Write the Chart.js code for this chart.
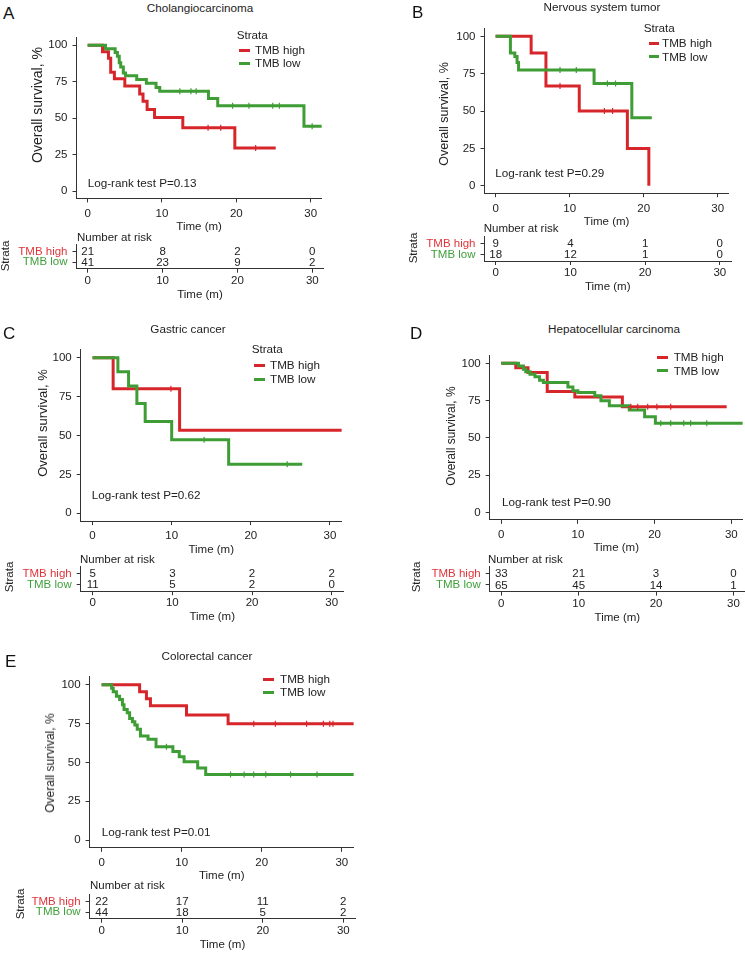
<!DOCTYPE html>
<html>
<head>
<meta charset="utf-8">
<script src="https://cdn.jsdelivr.net/npm/chart.js@4.4.1/dist/chart.umd.min.js"></script>
<style>
html, body { margin: 0; padding: 0; background: #fff; }
body { width: 745px; height: 953px; position: relative; overflow: hidden;
       font-family: "Liberation Sans", Arial, Helvetica, sans-serif; color: #222; }
canvas { position: absolute; }
.t { position: absolute; white-space: nowrap; line-height: 1; font-size: 11.5px; }
.key { position: absolute; height: 3px; }
</style>
</head>
<body>
<script>
// ---- data ----
const timeTicks = [0, 10, 20, 30];
const survTicks = [0, 25, 50, 75, 100];
const strata = ['TMB high', 'TMB low'];
const riskTimes = [0, 10, 20, 30];

// A  Cholangiocarcinoma
const cholHighTime = [0, 2.0, 2.8, 3.1, 3.6, 5.0, 7.0, 7.45, 8.0, 9.0, 12.8, 19.8, 25.3];
const cholHighSurv = [100, 95.5, 91, 81.5, 77, 72, 66.5, 61.5, 56, 50.5, 43.5, 29.5, 29.5];
const cholLowTime = [0, 2.4, 3.7, 4.0, 4.25, 4.45, 4.8, 5.1, 6.6, 7.9, 9.2, 9.7, 16.25, 17.5, 29.1, 31.5];
const cholLowSurv = [100, 97.5, 95, 92.5, 88, 85, 81, 79, 76.5, 74, 71, 68.5, 63.5, 58.5, 44.5, 44.5];
const cholHighCensTime = [16.2, 17.9, 22.6];
const cholHighCensSurv = [43.5, 43.5, 29.5];
const cholLowCensTime = [12.4, 13.9, 14.6, 19.5, 21.7, 24.9, 25.8, 30.2];
const cholLowCensSurv = [68.5, 68.5, 68.5, 58.5, 58.5, 58.5, 58.5, 44.5];
const cholRiskHigh = [21, 8, 2, 0];
const cholRiskLow = [41, 23, 9, 2];

// B  Nervous system tumor
const nervHighTime = [0, 4.8, 6.8, 11.3, 17.8, 20.7];
const nervHighSurv = [100, 88.9, 66.7, 50, 25, 0];
const nervLowTime = [0, 2.0, 2.6, 2.9, 3.1, 13.3, 18.4, 21.1];
const nervLowSurv = [100, 88.9, 86.5, 82.5, 77.5, 68.5, 45.5, 45.5];
const nervHighCensTime = [8.7, 14.7, 15.8];
const nervHighCensSurv = [66.7, 50, 50];
const nervLowCensTime = [8.7, 10.9, 15.1, 16.2];
const nervLowCensSurv = [77.5, 77.5, 68.5, 68.5];
const nervRiskHigh = [9, 4, 1, 0];
const nervRiskLow = [18, 12, 1, 0];

// C  Gastric cancer
const gastHighTime = [0, 2.6, 11.0, 31.5];
const gastHighSurv = [100, 80, 53.3, 53.3];
const gastLowTime = [0, 3.2, 4.55, 5.6, 6.65, 10.0, 17.2, 26.5];
const gastLowSurv = [100, 90.9, 81.8, 70.5, 59, 47.3, 31.5, 31.5];
const gastHighCensTime = [9.9];
const gastHighCensSurv = [80];
const gastLowCensTime = [14.1, 24.6];
const gastLowCensSurv = [47.3, 31.5];
const gastRiskHigh = [5, 3, 2, 2];
const gastRiskLow = [11, 5, 2, 0];

// D  Hepatocellular carcinoma
const hepaHighTime = [0, 1.9, 3.5, 6.0, 9.6, 15.8, 29.4];
const hepaHighSurv = [100, 97, 93.9, 81.1, 77.5, 70.9, 70.9];
const hepaLowTime = [0, 2.25, 2.9, 3.2, 3.75, 4.4, 5.0, 5.5, 8.7, 9.35, 10.0, 12.2, 13.0, 14.1, 16.7, 18.7, 20.1, 31.5];
const hepaLowSurv = [100, 98.2, 96, 94.4, 92.7, 91, 88.7, 87.1, 84.2, 81.6, 80.4, 78.2, 74.9, 71.6, 68.7, 64.2, 59.8, 59.8];
const hepaHighCensTime = [16.9, 17.8, 19.1, 20.3, 22.1];
const hepaHighCensSurv = [70.9, 70.9, 70.9, 70.9, 70.9];
const hepaLowCensTime = [20.8, 22.1, 23.8, 24.7, 26.8];
const hepaLowCensSurv = [59.8, 59.8, 59.8, 59.8, 59.8];
const hepaRiskHigh = [33, 21, 3, 0];
const hepaRiskLow = [65, 45, 14, 1];

// E  Colorectal cancer
const coloHighTime = [0, 4.75, 5.6, 6.1, 10.6, 15.8, 31.5];
const coloHighSurv = [100, 95.5, 90.9, 86.4, 80.5, 74.8, 74.8];
const coloLowTime = [0, 1.25, 1.45, 1.85, 2.25, 2.6, 2.8, 3.2, 3.5, 3.85, 4.15, 4.45, 4.85, 5.8, 6.8, 8.9, 9.7, 10.3, 12.0, 13.0, 31.5];
const coloLowSurv = [100, 97.7, 95.5, 92.5, 90.5, 87, 84, 82, 78.3, 76.2, 74, 71.3, 67, 64.9, 60, 57, 53.6, 50.4, 46.4, 42.1, 42.1];
const coloHighCensTime = [19.0, 21.7, 25.6, 27.7, 28.5, 28.9];
const coloHighCensSurv = [74.8, 74.8, 74.8, 74.8, 74.8, 74.8];
const coloLowCensTime = [8.1, 16.1, 17.8, 19.0, 20.5, 23.6, 26.9];
const coloLowCensSurv = [60, 42.1, 42.1, 42.1, 42.1, 42.1, 42.1];
const coloRiskHigh = [22, 17, 11, 2];
const coloRiskLow = [44, 18, 5, 2];

const titles = ['Cholangiocarcinoma', 'Nervous system tumor', 'Gastric cancer', 'Hepatocellular carcinoma', 'Colorectal cancer'];
const pValues = ['0.13', '0.29', '0.62', '0.90', '0.01'];

// ---- look ----
const FONT = '"Liberation Sans", Arial, Helvetica, sans-serif';
const RED = '#d7262b';
const GREEN = '#3e9d35';
const RED_TXT = '#e0353a';
const GREEN_TXT = '#3f9f3a';
const AXIS = '#333';
const TXT = '#222';

// panel placement in the 745x953 page
const panels = [
  { letter: 'A', x0: 0, area: [76.5, 36.4, 323.5, 198.4], table: [243, 268.7],
    high: [cholHighTime, cholHighSurv], low: [cholLowTime, cholLowSurv],
    cens: [cholHighCensTime, cholHighCensSurv, cholLowCensTime, cholLowCensSurv], risk: [cholRiskHigh, cholRiskLow],
    letterPos: [3, 13], titlePos: [200, 8], ytitle: [37, 105, 14], pval: [87.7, 182.7],
    legend: { head: [236.7, 35], lineX: 239.3, textX: 255, ys: [50, 63.3] }, nar: [77, 237.7], strataPos: [6, 256] },
  { letter: 'B', x0: 372, area: [484.5, 27.5, 731, 193.2], table: [235.3, 261],
    high: [nervHighTime, nervHighSurv], low: [nervLowTime, nervLowSurv],
    cens: [nervHighCensTime, nervHighCensSurv, nervLowCensTime, nervLowCensSurv], risk: [nervRiskHigh, nervRiskLow],
    letterPos: [412, 12], titlePos: [602, 7], ytitle: [444, 114, 12.5], pval: [495.3, 173.3],
    legend: { head: [643.7, 28.3], lineX: 648.7, textX: 662, ys: [43.3, 56.7] }, nar: [483.7, 229.3], strataPos: [414, 248] },
  { letter: 'C', x0: 0, area: [80.7, 348.9, 343.7, 521.1], table: [565.9, 591.2],
    high: [gastHighTime, gastHighSurv], low: [gastLowTime, gastLowSurv],
    cens: [gastHighCensTime, gastHighCensSurv, gastLowCensTime, gastLowCensSurv], risk: [gastRiskHigh, gastRiskLow],
    letterPos: [3, 333], titlePos: [188, 329], ytitle: [42, 423, 13], pval: [91.7, 495],
    legend: { head: [251.7, 349.3], lineX: 254, textX: 270, ys: [365, 379] }, nar: [80, 560], strataPos: [10, 577] },
  { letter: 'D', x0: 372, area: [489.7, 354.8, 745, 519.8], table: [565.6, 591.6],
    high: [hepaHighTime, hepaHighSurv], low: [hepaLowTime, hepaLowSurv],
    cens: [hepaHighCensTime, hepaHighCensSurv, hepaLowCensTime, hepaLowCensSurv], risk: [hepaRiskHigh, hepaRiskLow],
    letterPos: [410, 333], titlePos: [614, 329], ytitle: [451, 436, 12], pval: [502, 501.7],
    legend: { head: null, lineX: 657, textX: 673.7, ys: [357.3, 370.7] }, nar: [488, 560], strataPos: [417, 577] },
  { letter: 'E', x0: 0, area: [89.6, 675.5, 355.4, 847.8], table: [893, 918.7],
    high: [coloHighTime, coloHighSurv], low: [coloLowTime, coloLowSurv],
    cens: [coloHighCensTime, coloHighCensSurv, coloLowCensTime, coloLowCensSurv], risk: [coloRiskHigh, coloRiskLow],
    letterPos: [5, 661], titlePos: [207, 656], ytitle: [50, 763, 12], pval: [101.7, 831.7],
    legend: { head: null, lineX: 263.3, textX: 280, ys: [679, 692.3] }, nar: [90, 886], strataPos: [21, 904] }
];

// ---- helpers ----
function label(str, x, y, opt) {
  opt = opt || {};
  const d = document.createElement('div');
  d.className = 't';
  d.textContent = str;
  d.style.left = x + 'px';
  d.style.top = y + 'px';
  if (opt.size) d.style.fontSize = opt.size + 'px';
  if (opt.color) d.style.color = opt.color;
  if (opt.rot) d.style.transform = 'translate(-50%,-50%) rotate(-90deg)';
  else if (opt.center) d.style.transform = 'translate(-50%,-50%)';
  else d.style.transform = 'translate(0,-50%)';
  document.body.appendChild(d);
}

function keyLine(x, y, color) {
  const s = document.createElement('div');
  s.className = 'key';
  s.style.left = x + 'px';
  s.style.top = (y - 1.5) + 'px';
  s.style.width = '10.5px';
  s.style.background = color;
  document.body.appendChild(s);
}

function makeCanvas(left, top, w, h) {
  const cv = document.createElement('canvas');
  cv.width = w;
  cv.height = h;
  cv.style.left = left + 'px';
  cv.style.top = top + 'px';
  cv.style.width = w + 'px';
  cv.style.height = h + 'px';
  document.body.appendChild(cv);
  return cv;
}

function points(times, surv) {
  return times.map((t, i) => ({ x: t, y: surv[i] }));
}

const tickFont = { family: FONT, size: 11.5 };
const axisGrid = { display: true, drawOnChartArea: false, drawTicks: true, tickLength: 4, color: AXIS, lineWidth: 1 };
const axisBorder = { display: true, color: AXIS, width: 1 };

function timeAxis(height, tickPad, titleBottom) {
  return {
    type: 'linear', min: -1.5, max: 31.5,
    afterBuildTicks: s => { s.ticks = timeTicks.map(v => ({ value: v })); },
    afterFit: s => { s.height = height; },
    grid: axisGrid, border: axisBorder,
    ticks: { padding: tickPad, color: TXT, font: tickFont, maxRotation: 0, autoSkip: false },
    title: { display: true, text: 'Time (m)', color: TXT, font: tickFont, padding: { top: 0, bottom: titleBottom } }
  };
}

// numbers at risk, drawn at the points placed by the table scales
const riskNumbers = {
  id: 'riskNumbers',
  afterDatasetsDraw(chart) {
    const ctx = chart.ctx;
    ctx.save();
    ctx.font = '11.5px ' + FONT;
    ctx.fillStyle = TXT;
    ctx.textAlign = 'center';
    ctx.textBaseline = 'middle';
    chart.data.datasets.forEach((ds, di) => {
      chart.getDatasetMeta(di).data.forEach((pt, i) => {
        ctx.fillText(String(ds.data[i].n), pt.x, pt.y + 0.5);
      });
    });
    ctx.restore();
  }
};

function censorSet(times, surv, color) {
  return {
    data: points(times, surv), showLine: false, order: -1,
    pointStyle: 'cross', pointRadius: 3, pointBorderWidth: 1.2,
    pointBorderColor: color, pointBackgroundColor: color
  };
}

function drawKM(p) {
  const [l, t, r, b] = p.area;
  const left = p.x0;
  const top = Math.floor(t - 10);
  const w = Math.ceil(r - left + 3);
  const h = Math.ceil(b + 36 - top);
  const cv = makeCanvas(left, top, w, h);
  new Chart(cv, {
    type: 'line',
    data: {
      datasets: [
        { label: strata[1], data: points(p.low[0], p.low[1]), borderColor: GREEN, order: 0 },
        { label: strata[0], data: points(p.high[0], p.high[1]), borderColor: RED, order: 1 },
        censorSet(p.cens[0], p.cens[1], RED),
        censorSet(p.cens[2], p.cens[3], GREEN)
      ]
    },
    options: {
      responsive: false, animation: false, events: [],
      layout: { padding: { left: 0, top: t - top, right: w - (r - left), bottom: h - (b + 36 - top) } },
      elements: {
        line: { borderWidth: 3, stepped: 'before', tension: 0, fill: false, borderCapStyle: 'butt', borderJoinStyle: 'miter' },
        point: { radius: 0 }
      },
      plugins: { legend: { display: false }, tooltip: { enabled: false } },
      scales: {
        x: timeAxis(36, 4.3, 0.8),
        y: {
          type: 'linear', min: -5, max: 105,
          afterBuildTicks: s => { s.ticks = survTicks.map(v => ({ value: v })); },
          afterFit: s => { s.width = l - left; },
          grid: axisGrid, border: axisBorder,
          ticks: { padding: 5, color: TXT, font: tickFont }
        }
      }
    }
  });
}

function drawRisk(p) {
  const [l, , r] = p.area;
  const [tt, tb] = p.table;
  const left = p.x0;
  const top = Math.floor(tt - 10);
  const w = Math.ceil(r - left + 3);
  const h = Math.ceil(tb + 34 - top);
  const cv = makeCanvas(left, top, w, h);
  new Chart(cv, {
    type: 'scatter',
    data: {
      datasets: strata.map((name, k) => ({
        label: name,
        data: riskTimes.map((tm, i) => ({ x: tm, y: 2 - k, n: p.risk[k][i] })),
        pointRadius: 0, showLine: false
      }))
    },
    options: {
      responsive: false, animation: false, events: [],
      layout: { padding: { left: 0, top: tt - top, right: w - (r - left), bottom: h - (tb + 34 - top) } },
      plugins: { legend: { display: false }, tooltip: { enabled: false } },
      scales: {
        x: timeAxis(34, 1.2, 1),
        y: {
          type: 'linear', min: 0.4, max: 2.6,
          afterBuildTicks: s => { s.ticks = [{ value: 1 }, { value: 2 }]; },
          afterFit: s => { s.width = l - left; },
          grid: axisGrid, border: axisBorder,
          ticks: {
            padding: 5, font: tickFont,
            callback: v => (v === 2 ? strata[0] : strata[1]),
            color: c => (c.tick && c.tick.value === 2 ? RED_TXT : GREEN_TXT)
          }
        }
      }
    },
    plugins: [riskNumbers]
  });
}

panels.forEach((p, i) => {
  drawKM(p);
  drawRisk(p);
  label(p.letter, p.letterPos[0], p.letterPos[1], { size: 17, color: '#111' });
  label(titles[i], p.titlePos[0], p.titlePos[1], { center: true, size: 11.7 });
  label('Overall survival, %', p.ytitle[0], p.ytitle[1], { rot: true, size: p.ytitle[2] });
  label('Log-rank test P=' + pValues[i], p.pval[0], p.pval[1], { size: 11.7 });
  if (p.legend.head) label('Strata', p.legend.head[0], p.legend.head[1], { size: 11.7 });
  keyLine(p.legend.lineX, p.legend.ys[0], RED);
  keyLine(p.legend.lineX, p.legend.ys[1], GREEN);
  label(strata[0], p.legend.textX, p.legend.ys[0], { size: 11.7 });
  label(strata[1], p.legend.textX, p.legend.ys[1], { size: 11.7 });
  label('Number at risk', p.nar[0], p.nar[1], { size: 11.5 });
  label('Strata', p.strataPos[0], p.strataPos[1], { rot: true, size: 11.5 });
});
</script>
</body>
</html>
